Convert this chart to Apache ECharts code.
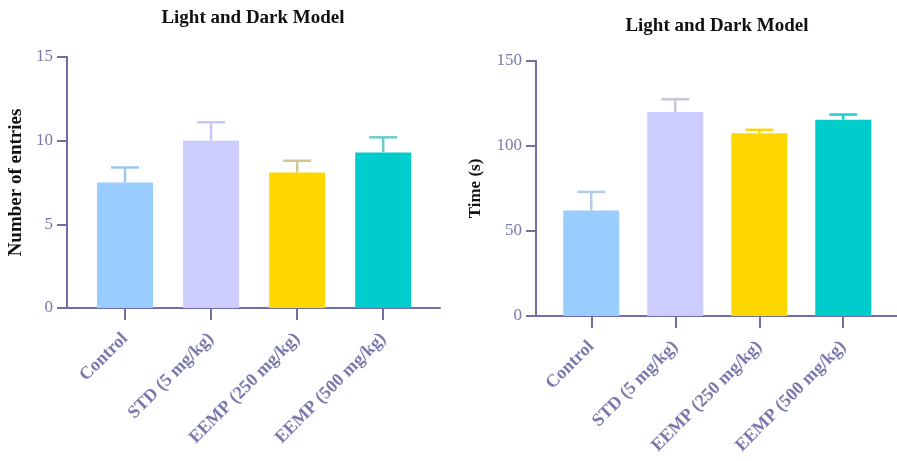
<!DOCTYPE html>
<html>
<head>
<meta charset="utf-8">
<style>
  html, body { margin: 0; padding: 0; background: #ffffff; }
  #chart { width: 897px; height: 461px; }
</style>
<script src="https://cdn.jsdelivr.net/npm/echarts@6/dist/echarts.min.js"></script>
</head>
<body>
<div id="chart"></div>
<script>
// Groups shown on both panels
const categories = ['Control', 'STD (5 mg/kg)', 'EEMP (250 mg/kg)', 'EEMP (500 mg/kg)'];

// Panel 1: number of entries (mean and mean + SEM)
const entriesMean = [7.5, 10.0, 8.1, 9.3];
const entriesUpper = [8.4, 11.1, 8.8, 10.2];
const entriesTicks = [0, 5, 10, 15];

// Panel 2: time spent in the light box, seconds
const timeMean = [62, 120, 107.5, 115.5];
const timeUpper = [73, 127.5, 109.5, 118.5];
const timeTicks = [0, 50, 100, 150];

const barColors = ['#99ccff', '#ccccff', '#ffd700', '#00cccc'];
const errColorsLeft = ['#9cc6ee', '#c8c8f4', '#d2c88e', '#6ccccc'];
const errColorsRight = ['#b4cce8', '#c8c8dc', '#ffd700', '#22cccc'];

const axisColor = '#6f6fa6';
const labelColor = '#7878ae';
const serif = '"Liberation Serif", "DejaVu Serif", serif';

function xAxisFor(gridIndex, min, max) {
  return {
    type: 'value', gridIndex, min, max,
    splitLine: { show: false },
    axisLine: { show: true, onZero: false, lineStyle: { color: axisColor, width: 2 } },
    axisTick: { show: true, customValues: [0, 1, 2, 3], length: 12, inside: false,
                lineStyle: { color: axisColor, width: 2 } },
    axisLabel: {
      customValues: [0, 1, 2, 3],
      rotate: 45, margin: 28,
      color: labelColor, fontFamily: serif, fontWeight: 'bold', fontSize: 18,
      formatter: v => categories[Math.round(v)]
    }
  };
}

function yAxisFor(gridIndex, ticks, name, nameGap, nameSize) {
  return {
    type: 'value', gridIndex,
    min: ticks[0], max: ticks[ticks.length - 1],
    interval: ticks[1] - ticks[0],
    name, nameLocation: 'middle', nameRotate: 90, nameGap,
    nameTextStyle: { color: '#111111', fontFamily: serif, fontWeight: 'bold', fontSize: nameSize },
    splitLine: { show: false },
    axisLine: { show: true, onZero: false, lineStyle: { color: axisColor, width: 2 } },
    axisTick: { show: true, length: 10, lineStyle: { color: axisColor, width: 2 } },
    axisLabel: { color: labelColor, fontFamily: serif, fontSize: 17, margin: 14 }
  };
}

function barSeries(axisIndex, means) {
  return {
    type: 'bar', xAxisIndex: axisIndex, yAxisIndex: axisIndex,
    barWidth: 56,
    data: means.map((m, i) => ({ value: [i, m], itemStyle: { color: barColors[i] } })),
    silent: true
  };
}

function errorSeries(axisIndex, means, uppers, colors) {
  return {
    type: 'custom', xAxisIndex: axisIndex, yAxisIndex: axisIndex,
    data: means.map((m, i) => [i, m, uppers[i]]),
    renderItem: (params, api) => {
      const i = api.value(0);
      const base = api.coord([i, api.value(1)]);
      const top = api.coord([i, api.value(2)]);
      const half = 14;
      const style = { stroke: colors[i], lineWidth: 2.5 };
      return {
        type: 'group',
        children: [
          { type: 'line', shape: { x1: base[0], y1: base[1], x2: top[0], y2: top[1] }, style },
          { type: 'line', shape: { x1: top[0] - half, y1: top[1], x2: top[0] + half, y2: top[1] }, style }
        ]
      };
    },
    z: 3, silent: true
  };
}

const chart = echarts.init(document.getElementById('chart'));
chart.setOption({
  backgroundColor: '#ffffff',
  animation: false,
  title: [
    { text: 'Light and Dark Model', left: 248, top: 4, textAlign: 'center',
      textStyle: { fontFamily: serif, fontWeight: 'bold', fontSize: 19, color: '#111111' } },
    { text: 'Light and Dark Model', left: 712, top: 12, textAlign: 'center',
      textStyle: { fontFamily: serif, fontWeight: 'bold', fontSize: 19, color: '#111111' } }
  ],
  grid: [
    { left: 67, right: 457, top: 57, bottom: 153 },
    { left: 536, right: 0, top: 61, bottom: 145 }
  ],
  xAxis: [xAxisFor(0, -0.674, 3.66), xAxisFor(1, -0.658, 3.64)],
  yAxis: [
    yAxisFor(0, entriesTicks, 'Number of entries', 41, 19),
    yAxisFor(1, timeTicks, 'Time (s)', 52, 17)
  ],
  series: [
    barSeries(0, entriesMean),
    errorSeries(0, entriesMean, entriesUpper, errColorsLeft),
    barSeries(1, timeMean),
    errorSeries(1, timeMean, timeUpper, errColorsRight)
  ]
});
</script>
</body>
</html>
